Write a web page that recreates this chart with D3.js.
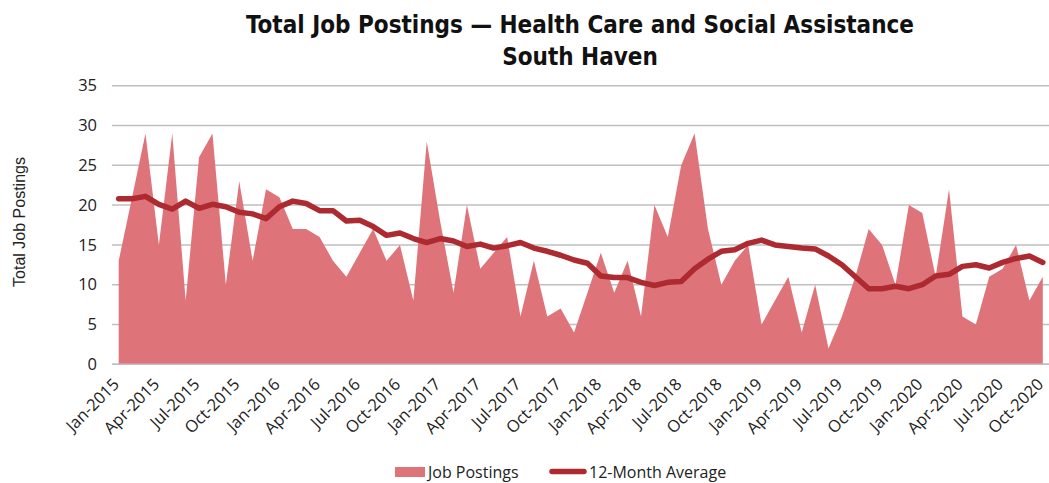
<!DOCTYPE html>
<html>
<head>
<meta charset="utf-8">
<script src="https://cdn.jsdelivr.net/npm/d3@7"></script>
<style>
  html, body { margin: 0; padding: 0; background: #fff; }
  svg { display: block; }
</style>
</head>
<body>
<svg id="chart" width="1049" height="483"></svg>
<script>
// ---- Data ----
const months = [
  "Jan-2015","Feb-2015","Mar-2015","Apr-2015","May-2015","Jun-2015","Jul-2015","Aug-2015","Sep-2015","Oct-2015","Nov-2015","Dec-2015",
  "Jan-2016","Feb-2016","Mar-2016","Apr-2016","May-2016","Jun-2016","Jul-2016","Aug-2016","Sep-2016","Oct-2016","Nov-2016","Dec-2016",
  "Jan-2017","Feb-2017","Mar-2017","Apr-2017","May-2017","Jun-2017","Jul-2017","Aug-2017","Sep-2017","Oct-2017","Nov-2017","Dec-2017",
  "Jan-2018","Feb-2018","Mar-2018","Apr-2018","May-2018","Jun-2018","Jul-2018","Aug-2018","Sep-2018","Oct-2018","Nov-2018","Dec-2018",
  "Jan-2019","Feb-2019","Mar-2019","Apr-2019","May-2019","Jun-2019","Jul-2019","Aug-2019","Sep-2019","Oct-2019","Nov-2019","Dec-2019",
  "Jan-2020","Feb-2020","Mar-2020","Apr-2020","May-2020","Jun-2020","Jul-2020","Aug-2020","Sep-2020","Oct-2020"
];
const jobPostings = [
  13, 21, 29, 15, 29, 8, 26, 29, 10, 23, 13, 22,
  21, 17, 17, 16, 13, 11, 14, 17, 13, 15, 8, 28,
  18, 9, 20, 12, 14, 16, 6, 13, 6, 7, 4, 9,
  14, 9, 13, 6, 20, 16, 25, 29, 17, 10, 13, 15,
  5, 8, 11, 4, 10, 2, 6, 11, 17, 15, 10, 20,
  19, 11, 22, 6, 5, 11, 12, 15, 8, 11
];
const avg12 = [
  20.8, 20.8, 21.1, 20.1, 19.5, 20.5, 19.6, 20.1, 19.8, 19.1, 18.9, 18.3,
  19.8, 20.5, 20.2, 19.3, 19.3, 18.0, 18.1, 17.3, 16.2, 16.5, 15.8, 15.3,
  15.8, 15.5, 14.8, 15.1, 14.6, 14.9, 15.3, 14.6, 14.2, 13.7, 13.1, 12.7,
  11.1, 10.9, 10.9, 10.3, 9.9, 10.3, 10.4, 12.0, 13.2, 14.2, 14.4, 15.2,
  15.6, 15.0, 14.8, 14.6, 14.5, 13.6, 12.5, 11.0, 9.5, 9.5, 9.8, 9.5,
  10.0, 11.1, 11.3, 12.3, 12.5, 12.1, 12.8, 13.3, 13.6, 12.8
];
const yTicks = [0, 5, 10, 15, 20, 25, 30, 35];
const xTickLabels = months.filter((m, i) => i % 3 === 0);

const titleLines = ["Total Job Postings \u2014 Health Care and Social Assistance", "South Haven"];
const yAxisTitle = "Total Job Postings";
const seriesNames = ["Job Postings", "12-Month Average"];

// ---- Layout ----
const areaColor = "#DE747A";
const lineColor = "#AE2A31";
const gridColor = "#BFBFBF";
const tickFont = "'Open Sans', 'Liberation Sans', Arial, sans-serif";

const plot = { left: 112, right: 1049.5, top: 85.7, bottom: 364.3 };

const svg = d3.select("#chart");

const x = d3.scalePoint()
  .domain(months)
  .range([plot.left, plot.right])
  .padding(0.5);

const y = d3.scaleLinear()
  .domain([0, 35])
  .range([plot.bottom, plot.top]);

// Gridlines
svg.append("g")
  .selectAll("line")
  .data(yTicks)
  .join("line")
  .attr("x1", plot.left)
  .attr("x2", plot.right)
  .attr("y1", d => y(d))
  .attr("y2", d => y(d))
  .attr("stroke", gridColor)
  .attr("stroke-width", 1.5);

// Area
const area = d3.area()
  .x((d, i) => x(months[i]))
  .y0(y(0))
  .y1(d => y(d));

svg.append("path")
  .datum(jobPostings)
  .attr("d", area)
  .attr("fill", areaColor);

// baseline
svg.append("line")
  .attr("x1", plot.left).attr("x2", plot.right)
  .attr("y1", y(0)).attr("y2", y(0))
  .attr("stroke", gridColor).attr("stroke-width", 1.5);

// Line
const line = d3.line()
  .x((d, i) => x(months[i]))
  .y(d => y(d));

svg.append("path")
  .datum(avg12)
  .attr("d", line)
  .attr("fill", "none")
  .attr("stroke", lineColor)
  .attr("stroke-width", 5.5)
  .attr("stroke-linejoin", "round")
  .attr("stroke-linecap", "round");

// Y axis
const yAxis = d3.axisLeft(y).tickValues(yTicks).tickSize(0).tickPadding(0);
const yg = svg.append("g")
  .attr("transform", `translate(${plot.left - 15},0)`)
  .call(yAxis);
yg.select(".domain").remove();
yg.selectAll("text")
  .attr("font-family", tickFont)
  .attr("font-size", 16.5)
  .attr("fill", "#222");

// X axis
const xAxis = d3.axisBottom(x).tickValues(xTickLabels).tickSize(0).tickPadding(0);
const xg = svg.append("g")
  .attr("transform", `translate(0,${plot.bottom})`)
  .call(xAxis);
xg.select(".domain").remove();
xg.selectAll("text")
  .attr("font-family", tickFont)
  .attr("font-size", 16.5)
  .attr("fill", "#222")
  .attr("text-anchor", "end")
  .attr("dy", 0)
  .attr("y", 0)
  .attr("transform", "translate(1,21) rotate(-45)");

// Y axis title
svg.append("text")
  .attr("transform", `translate(25,222) rotate(-90)`)
  .attr("text-anchor", "middle")
  .attr("font-family", "'Liberation Sans', Arial, sans-serif")
  .attr("font-size", 16)
  .attr("fill", "#222")
  .text(yAxisTitle);

// Title
svg.append("g")
  .selectAll("text")
  .data(titleLines)
  .join("text")
  .attr("x", 580)
  .attr("y", (d, i) => 33 + i * 32)
  .attr("text-anchor", "middle")
  .attr("font-family", "'Liberation Sans Narrow', 'DejaVu Sans Condensed', 'Roboto', sans-serif")
  .attr("font-weight", "bold")
  .attr("font-size", 24)
  .attr("fill", "#111")
  .text(d => d);

// Legend
const lg = svg.append("g");
lg.append("rect")
  .attr("x", 395).attr("y", 467).attr("width", 30).attr("height", 10)
  .attr("fill", areaColor);
lg.append("text")
  .attr("x", 428).attr("y", 478)
  .attr("font-family", tickFont).attr("font-size", 16).attr("fill", "#222")
  .text(seriesNames[0]);
lg.append("line")
  .attr("x1", 552).attr("x2", 584).attr("y1", 471.5).attr("y2", 471.5)
  .attr("stroke", lineColor).attr("stroke-width", 5.5).attr("stroke-linecap", "round");
lg.append("text")
  .attr("x", 589).attr("y", 478)
  .attr("font-family", tickFont).attr("font-size", 16).attr("fill", "#222")
  .text(seriesNames[1]);
</script>
</body>
</html>
